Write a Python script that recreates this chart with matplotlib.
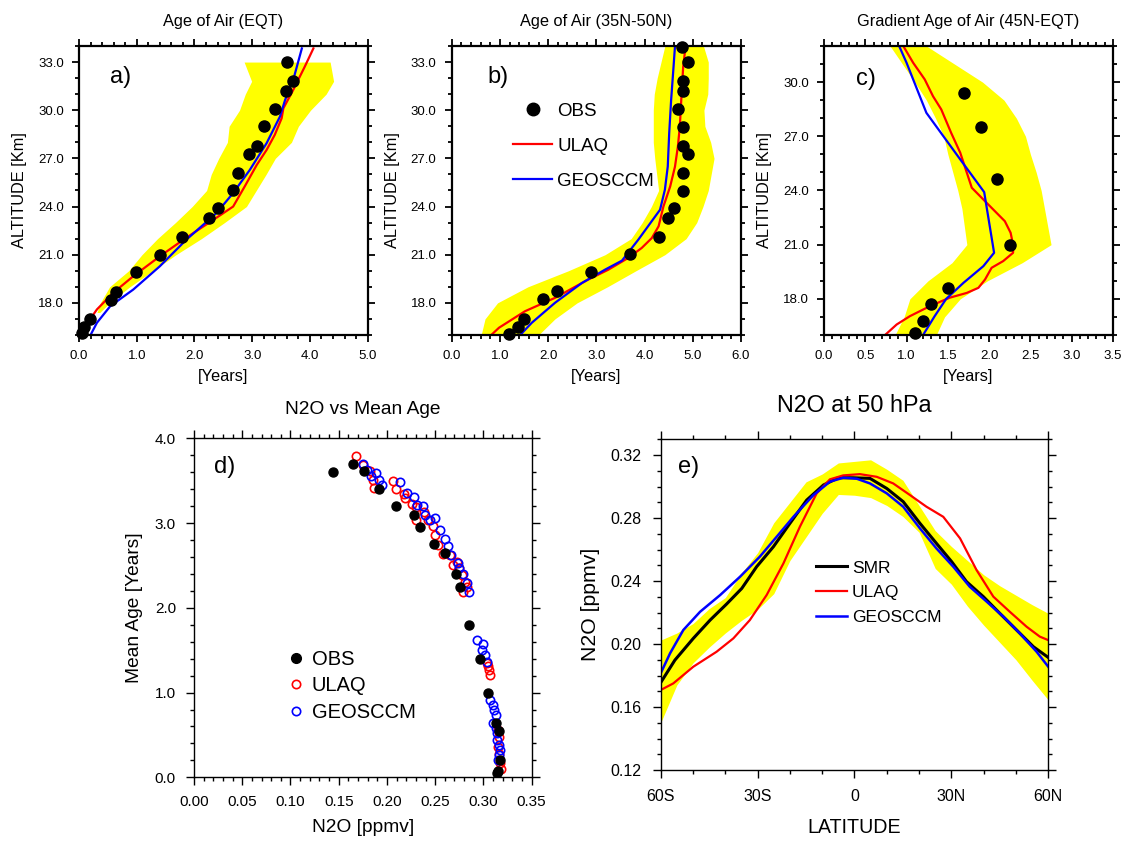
import numpy as np
import matplotlib
matplotlib.use('Agg')
import matplotlib.pyplot as plt
from matplotlib.ticker import MultipleLocator, FormatStrFormatter, FixedLocator
from matplotlib.lines import Line2D

plt.rcParams['font.family'] = ['Liberation Sans', 'DejaVu Sans']

# ---------------- Panel a: Age of Air (EQT) ----------------
a_obs_age = [3.60, 3.70, 3.59, 3.39, 3.20, 3.09, 2.94, 2.75, 2.66, 2.40, 2.25, 1.79, 1.40, 0.99, 0.64, 0.55, 0.19, 0.09, 0.06]
a_obs_alt = [33.0, 31.8, 31.2, 30.1, 29.0, 27.8, 27.3, 26.1, 25.0, 23.9, 23.3, 22.1, 21.0, 19.9, 18.7, 18.2, 17.0, 16.5, 16.1]
a_ulaq_age = [0.075, 0.10, 0.19, 0.31, 0.59, 0.94, 1.40, 1.81, 2.33, 2.67, 2.87, 3.08, 3.25, 3.39, 3.51, 3.54, 3.71, 3.91, 4.06]
a_ulaq_alt = [16.0, 16.45, 16.97, 17.59, 18.62, 19.66, 20.9, 21.94, 23.18, 24.0, 25.25, 26.6, 27.53, 28.46, 29.5, 30.12, 31.26, 32.71, 33.85]
a_geos_age = [0.20, 0.31, 0.54, 0.94, 1.40, 1.86, 2.38, 2.67, 2.96, 3.25, 3.48, 3.57, 3.71, 3.86]
a_geos_alt = [16.0, 16.76, 17.79, 18.83, 20.28, 21.94, 23.59, 24.84, 26.29, 27.95, 29.6, 30.64, 31.88, 33.85]
a_band_alt = [17.4, 18.0, 19.0, 20.0, 21.0, 22.0, 23.0, 24.0, 25.0, 26.0, 27.0, 28.0, 29.0, 30.0, 31.0, 31.8, 33.0]
a_band_lo = [0.31, 0.37, 0.53, 0.86, 1.09, 1.36, 1.67, 1.96, 2.21, 2.29, 2.42, 2.57, 2.60, 2.78, 2.88, 2.99, 2.86]
a_band_hi = [0.36, 0.53, 0.88, 1.28, 1.68, 2.12, 2.52, 2.90, 3.07, 3.24, 3.40, 3.68, 3.80, 4.01, 4.28, 4.41, 4.35]

# ---------------- Panel b: Age of Air (35N-50N) ----------------
b_obs_age = [4.78, 4.89, 4.80, 4.80, 4.69, 4.80, 4.80, 4.89, 4.80, 4.80, 4.60, 4.49, 4.29, 3.69, 2.89, 2.18, 1.90, 1.49, 1.38, 1.19]
b_obs_alt = [33.95, 33.0, 31.8, 31.22, 30.08, 28.98, 27.8, 27.3, 26.08, 24.98, 23.9, 23.28, 22.08, 21.03, 19.91, 18.71, 18.21, 17.0, 16.49, 16.07]
b_ulaq_age = [0.82, 0.98, 1.52, 2.14, 2.83, 3.25, 3.66, 3.94, 4.15, 4.29, 4.39, 4.53, 4.63, 4.69, 4.73, 4.76, 4.80, 4.85]
b_ulaq_alt = [16.0, 16.45, 17.48, 18.31, 19.45, 20.07, 20.8, 21.42, 22.04, 22.77, 24.0, 25.25, 26.49, 27.74, 28.98, 30.64, 32.71, 34.0]
b_geos_age = [1.42, 1.66, 2.14, 2.70, 3.18, 3.53, 3.87, 4.32, 4.42, 4.48, 4.51, 4.55, 4.60, 4.63]
b_geos_alt = [16.0, 16.76, 18.0, 19.24, 20.07, 20.63, 21.94, 23.8, 25.04, 26.49, 28.57, 30.64, 32.71, 34.0]
b_band_alt = [16.0, 17.0, 18.0, 19.0, 20.0, 21.0, 22.0, 23.0, 24.0, 25.0, 26.0, 27.0, 28.0, 29.0, 30.0, 31.0, 32.0, 33.0, 34.0]
b_band_lo = [0.61, 0.69, 0.95, 1.58, 2.42, 3.18, 3.72, 3.95, 4.14, 4.29, 4.25, 4.21, 4.18, 4.18, 4.18, 4.20, 4.26, 4.34, 4.42]
b_band_hi = [1.80, 2.14, 2.60, 3.23, 3.82, 4.42, 4.86, 5.08, 5.21, 5.32, 5.38, 5.44, 5.37, 5.25, 5.23, 5.31, 5.32, 5.32, 5.22]

# ---------------- Panel c: Gradient Age of Air (45N-EQT) ----------------
c_obs_age = [1.70, 1.90, 2.10, 2.25, 1.50, 1.30, 1.20, 1.10]
c_obs_alt = [29.41, 27.51, 24.61, 20.99, 18.59, 17.71, 16.78, 16.12]
c_ulaq_age = [0.74, 0.88, 1.04, 1.28, 1.52, 1.73, 1.87, 1.95, 2.03, 2.17, 2.29, 2.29, 2.26, 2.19, 2.01, 1.79, 1.73, 1.65, 1.54, 1.42, 1.32, 1.22, 1.08, 0.96]
c_ulaq_alt = [16.0, 16.58, 17.04, 17.59, 18.06, 18.33, 18.61, 19.07, 19.72, 20.09, 20.55, 21.0, 21.66, 22.3, 23.13, 24.15, 24.98, 26.09, 27.19, 28.49, 29.22, 30.15, 31.07, 32.0]
c_geos_age = [1.20, 1.34, 1.48, 1.69, 1.93, 2.06, 1.94, 1.65, 1.24, 1.00, 0.91]
c_geos_alt = [16.0, 17.04, 18.0, 18.89, 19.81, 20.55, 23.91, 25.72, 28.30, 31.07, 32.0]
c_band_alt = [16.0, 17.0, 18.0, 19.0, 20.0, 21.0, 22.0, 23.0, 24.0, 25.0, 26.0, 27.0, 28.0, 29.0, 30.0, 31.0, 32.0]
c_band_lo = [0.86, 0.97, 1.04, 1.26, 1.55, 1.73, 1.70, 1.67, 1.62, 1.56, 1.50, 1.45, 1.35, 1.24, 1.10, 0.95, 0.80]
c_band_hi = [1.36, 1.46, 1.65, 1.98, 2.40, 2.75, 2.71, 2.67, 2.63, 2.57, 2.50, 2.44, 2.33, 2.18, 1.92, 1.58, 1.24]

# ---------------- Panel d: N2O vs Mean Age ----------------
d_obs_n2o = [0.1444, 0.1645, 0.1762, 0.1921, 0.2094, 0.2280, 0.2343, 0.2488, 0.2598, 0.2716, 0.2757, 0.2854, 0.2964, 0.3047, 0.3130, 0.3158, 0.3172, 0.3151, 0.3137]
d_obs_age = [3.60, 3.70, 3.61, 3.40, 3.20, 3.10, 2.95, 2.75, 2.65, 2.40, 2.25, 1.80, 1.40, 1.00, 0.645, 0.547, 0.205, 0.079, 0.047]
d_ulaq_n2o = [0.1679, 0.1755, 0.1824, 0.1859, 0.1866, 0.2066, 0.2094, 0.2177, 0.2187, 0.2256, 0.2301, 0.2301, 0.2384, 0.2429, 0.2481, 0.2498, 0.2533, 0.2584, 0.2653, 0.2688, 0.2729, 0.2750, 0.2774, 0.2785, 0.2809, 0.2826,
              0.3033, 0.3051, 0.3061, 0.3068, 0.3154, 0.3161, 0.3154, 0.3165, 0.3172, 0.3179]
d_ulaq_age = [3.79, 3.69, 3.61, 3.51, 3.41, 3.50, 3.40, 3.34, 3.30, 3.23, 3.19, 3.04, 3.13, 3.04, 2.96, 2.86, 2.74, 2.64, 2.62, 2.51, 2.54, 2.47, 2.39, 2.19, 2.31, 2.25,
              1.35, 1.31, 1.27, 1.21, 0.56, 0.48, 0.36, 0.28, 0.165, 0.094]
d_geos_n2o = [0.1755, 0.1790, 0.1831, 0.1887, 0.1921, 0.1945, 0.2135, 0.2211, 0.2280, 0.2308, 0.2370, 0.2394, 0.2446, 0.2498, 0.2550, 0.2602, 0.2636, 0.2660, 0.2740, 0.2750, 0.2792, 0.2826, 0.2854,
              0.2937, 0.2992, 0.2982, 0.3016, 0.3033, 0.3068, 0.3096, 0.3113, 0.3127, 0.3102, 0.3130, 0.3144, 0.3137, 0.3158, 0.3172, 0.3165, 0.3155]
d_geos_age = [3.70, 3.63, 3.55, 3.59, 3.51, 3.45, 3.48, 3.35, 3.31, 3.21, 3.20, 3.10, 3.04, 3.06, 2.92, 2.81, 2.73, 2.62, 2.53, 2.47, 2.40, 2.29, 2.19,
              1.62, 1.57, 1.50, 1.44, 1.36, 0.91, 0.85, 0.79, 0.74, 0.64, 0.58, 0.52, 0.44, 0.38, 0.32, 0.26, 0.20]

# ---------------- Panel e: N2O at 50 hPa ----------------
e_smr_lat = [-60, -55.6, -49.9, -44.7, -39.6, -34.9, -30.3, -25.1, -20.0, -14.8, -9.6, -5.0, -0.4, 4.8, 10.0, 15.1, 20.3, 25.4, 30.1, 34.7, 39.9, 45.0, 50.2, 55.4, 60]
e_smr_val = [0.1755, 0.1898, 0.2036, 0.2152, 0.2254, 0.2353, 0.2491, 0.2618, 0.2766, 0.2914, 0.3010, 0.3056, 0.3056, 0.3052, 0.2988, 0.2904, 0.2766, 0.2639, 0.2523, 0.2396, 0.2301, 0.2195, 0.2089, 0.1983, 0.1915]
e_ulaq_lat = [-60, -56.1, -49.9, -42.7, -37.5, -32.4, -27.2, -22.0, -16.9, -11.7, -7.6, -3.5, 1.7, 6.9, 12.0, 17.2, 22.3, 27.5, 32.7, 37.8, 43.0, 48.1, 53.3, 57.4, 60]
e_ulaq_val = [0.1708, 0.1750, 0.1856, 0.1951, 0.2036, 0.2152, 0.2311, 0.2512, 0.2745, 0.2957, 0.3046, 0.3071, 0.3079, 0.3062, 0.3020, 0.2946, 0.2872, 0.2808, 0.2671, 0.2470, 0.2301, 0.2205, 0.2110, 0.2047, 0.2025]
e_geos_lat = [-60, -57.1, -53.0, -47.8, -41.6, -35.4, -29.3, -24.1, -18.9, -12.7, -7.6, -3.5, 0.7, 4.8, 10.0, 15.1, 20.3, 25.4, 30.6, 35.7, 40.9, 46.1, 51.2, 56.4, 60]
e_geos_val = [0.1814, 0.1941, 0.2089, 0.2205, 0.2311, 0.2428, 0.2555, 0.2681, 0.2808, 0.2946, 0.3031, 0.3056, 0.3050, 0.3020, 0.2957, 0.2872, 0.2734, 0.2607, 0.2491, 0.2364, 0.2270, 0.2174, 0.2068, 0.1951, 0.1856]
e_band_lat = [-60, -55, -50, -45, -40, -35, -30, -25, -20, -15, -10, -5, 0, 5, 10, 15, 20, 25, 30, 35, 40, 45, 50, 55, 60]
e_band_hi = [0.2025, 0.207, 0.213, 0.2225, 0.2295, 0.245, 0.258, 0.277, 0.290, 0.303, 0.308, 0.315, 0.316, 0.317, 0.311, 0.304, 0.288, 0.272, 0.262, 0.253, 0.244, 0.237, 0.231, 0.225, 0.2195]
e_band_lo = [0.150, 0.174, 0.188, 0.198, 0.207, 0.215, 0.222, 0.232, 0.253, 0.268, 0.283, 0.295, 0.2945, 0.293, 0.288, 0.281, 0.271, 0.248, 0.238, 0.224, 0.212, 0.201, 0.190, 0.177, 0.1645]
e_lat_ticks = [-60, -30, 0, 30, 60]
e_lat_labels = ['60S', '30S', '0', '30N', '60N']

YEL = '#FFFF00'
RED = '#FF0000'
BLU = '#0000FF'

fig = plt.figure(figsize=(11.24, 8.41), dpi=100)


def style_top(ax, xmaj, xmin, xlim, ylim):
    ax.set_xlim(*xlim)
    ax.set_ylim(*ylim)
    ax.xaxis.set_major_locator(MultipleLocator(xmaj))
    ax.xaxis.set_minor_locator(MultipleLocator(xmin))
    ax.yaxis.set_major_locator(FixedLocator([v for v in [18, 21, 24, 27, 30, 33] if v <= ylim[1]]))
    ax.yaxis.set_minor_locator(MultipleLocator(1))
    ax.xaxis.set_major_formatter(FormatStrFormatter('%.1f'))
    ax.yaxis.set_major_formatter(FormatStrFormatter('%.1f'))
    ax.tick_params(which='both', direction='out', top=True, right=True, width=1.3, labelsize=9.5, pad=6)
    ax.tick_params(which='major', length=5)
    ax.tick_params(which='minor', length=3)
    for s in ax.spines.values():
        s.set_linewidth(1.6)
    ax.set_xlabel('[Years]', fontsize=11.8)
    ax.set_ylabel('ALTITUDE [Km]', fontsize=11.8)
    ax.xaxis.set_label_coords(0.5, -0.118)
    ax.yaxis.set_label_coords(-0.18, 0.5)


# ---- a ----
axa = fig.add_axes([0.0703, 0.6017, 0.2568, 0.3436])
axa.fill_betweenx(a_band_alt, a_band_lo, a_band_hi, color=YEL, lw=0)
axa.plot(a_ulaq_age, a_ulaq_alt, color=RED, lw=1.6)
axa.plot(a_geos_age, a_geos_alt, color=BLU, lw=1.6)
axa.plot(a_obs_age, a_obs_alt, 'o', color='black', ms=8, clip_on=False, zorder=5)
style_top(axa, 1.0, 0.2, (0, 5), (16, 34))
axa.set_title('Age of Air (EQT)', fontsize=11.8, y=1.069, pad=0)
axa.text(0.107, 0.893, 'a)', transform=axa.transAxes, fontsize=17, va='center', ha='left')

# ---- b ----
axb = fig.add_axes([0.4019, 0.6017, 0.2574, 0.3436])
axb.fill_betweenx(b_band_alt, b_band_lo, b_band_hi, color=YEL, lw=0)
axb.plot(b_ulaq_age, b_ulaq_alt, color=RED, lw=1.6)
axb.plot(b_geos_age, b_geos_alt, color=BLU, lw=1.6)
axb.plot(b_obs_age, b_obs_alt, 'o', color='black', ms=8, clip_on=False, zorder=5)
style_top(axb, 1.0, 0.2, (0, 6), (16, 34))
axb.set_title('Age of Air (35N-50N)', fontsize=11.8, y=1.069, pad=0)
axb.text(0.125, 0.894, 'b)', transform=axb.transAxes, fontsize=17, va='center', ha='left')
hb = [Line2D([], [], marker='o', color='black', ls='none', ms=9),
      Line2D([], [], color=RED, lw=1.6),
      Line2D([], [], color=BLU, lw=1.6)]
axb.legend(hb, ['OBS', 'ULAQ', 'GEOSCCM'], loc='upper left', bbox_to_anchor=(0.212, 0.803),
           frameon=False, fontsize=13.5, handlelength=2.1, handletextpad=0.25,
           labelspacing=0.94, borderpad=0, borderaxespad=0)

# ---- c ----
axc = fig.add_axes([0.7331, 0.6017, 0.2571, 0.3436])
axc.fill_betweenx(c_band_alt, c_band_lo, c_band_hi, color=YEL, lw=0)
axc.plot(c_ulaq_age, c_ulaq_alt, color=RED, lw=1.6)
axc.plot(c_geos_age, c_geos_alt, color=BLU, lw=1.6)
axc.plot(c_obs_age, c_obs_alt, 'o', color='black', ms=8, clip_on=False, zorder=5)
style_top(axc, 0.5, 0.1, (0, 3.5), (16, 32))
axc.set_title('Gradient Age of Air (45N-EQT)', fontsize=11.8, y=1.069, pad=0)
axc.text(0.11, 0.886, 'c)', transform=axc.transAxes, fontsize=17, va='center', ha='left')

# ---- d ----
axd = fig.add_axes([0.1726, 0.0757, 0.3004, 0.4031])
axd.plot(d_ulaq_n2o, d_ulaq_age, 'o', mfc='none', mec=RED, mew=1.2, ms=6)
axd.plot(d_geos_n2o, d_geos_age, 'o', mfc='none', mec=BLU, mew=1.2, ms=6)
axd.plot(d_obs_n2o, d_obs_age, 'o', color='black', ms=6.5, zorder=5)
axd.set_xlim(0, 0.35)
axd.set_ylim(0, 4.0)
axd.xaxis.set_major_locator(MultipleLocator(0.05))
axd.xaxis.set_minor_locator(MultipleLocator(0.01))
axd.yaxis.set_major_locator(MultipleLocator(1.0))
axd.yaxis.set_minor_locator(MultipleLocator(0.2))
axd.xaxis.set_major_formatter(FormatStrFormatter('%.2f'))
axd.yaxis.set_major_formatter(FormatStrFormatter('%.1f'))
axd.tick_params(which='both', direction='out', top=True, right=True, width=1.0, labelsize=11, pad=7)
axd.tick_params(which='major', length=6)
axd.tick_params(which='minor', length=3)
for s in axd.spines.values():
    s.set_linewidth(1.0)
axd.set_title('N2O vs Mean Age', fontsize=13.8, y=1.071, pad=0)
axd.set_xlabel('N2O [ppmv]', fontsize=13.8)
axd.set_ylabel('Mean Age [Years]', fontsize=13.8)
axd.xaxis.set_label_coords(0.5, -0.123)
axd.yaxis.set_label_coords(-0.152, 0.5)
axd.text(0.06, 0.916, 'd)', transform=axd.transAxes, fontsize=17, va='center', ha='left')
hd = [Line2D([], [], marker='o', color='black', ls='none', ms=7),
      Line2D([], [], marker='o', mfc='none', mec=RED, mew=1.2, ls='none', ms=6),
      Line2D([], [], marker='o', mfc='none', mec=BLU, mew=1.2, ls='none', ms=6)]
axd.legend(hd, ['OBS', 'ULAQ', 'GEOSCCM'], loc='upper left', bbox_to_anchor=(0.279, 0.376),
           frameon=False, fontsize=14.5, handlelength=0.8, handletextpad=0.38,
           labelspacing=0.37, borderpad=0, borderaxespad=0)

# ---- e ----
axe = fig.add_axes([0.5878, 0.0844, 0.3448, 0.3932])
axe.fill_between(e_band_lat, e_band_lo, e_band_hi, color=YEL, lw=0)
axe.plot(e_smr_lat, e_smr_val, color='black', lw=2.2)
axe.plot(e_ulaq_lat, e_ulaq_val, color=RED, lw=1.6)
axe.plot(e_geos_lat, e_geos_val, color=BLU, lw=1.8)
axe.set_xlim(-60, 60)
axe.set_ylim(0.12, 0.33)
axe.set_xticks(e_lat_ticks)
axe.set_xticklabels(e_lat_labels)
axe.xaxis.set_minor_locator(MultipleLocator(10))
axe.yaxis.set_major_locator(FixedLocator([0.12, 0.16, 0.20, 0.24, 0.28, 0.32]))
axe.yaxis.set_minor_locator(MultipleLocator(0.01))
axe.yaxis.set_major_formatter(FormatStrFormatter('%.2f'))
axe.tick_params(which='both', direction='out', top=True, right=True, width=1.0, labelsize=11.5, pad=8)
axe.tick_params(which='major', length=6)
axe.tick_params(which='minor', length=3)
for s in axe.spines.values():
    s.set_linewidth(1.0)
axe.set_title('N2O at 50 hPa', fontsize=16.8, y=1.082, pad=0)
axe.set_xlabel('LATITUDE', fontsize=14.1)
axe.set_ylabel('N2O [ppmv]', fontsize=15.3)
axe.xaxis.set_label_coords(0.5, -0.145)
axe.yaxis.set_label_coords(-0.157, 0.5)
axe.text(0.045, 0.916, 'e)', transform=axe.transAxes, fontsize=17, va='center', ha='left')
he = [Line2D([], [], color='black', lw=2.2),
      Line2D([], [], color=RED, lw=1.6),
      Line2D([], [], color=BLU, lw=1.8)]
axe.legend(he, ['SMR', 'ULAQ', 'GEOSCCM'], loc='upper left', bbox_to_anchor=(0.40, 0.634),
           frameon=False, fontsize=12.5, handlelength=1.8, handletextpad=0.28,
           labelspacing=0.55, borderpad=0, borderaxespad=0)

fig.savefig('out.png', dpi=100)
